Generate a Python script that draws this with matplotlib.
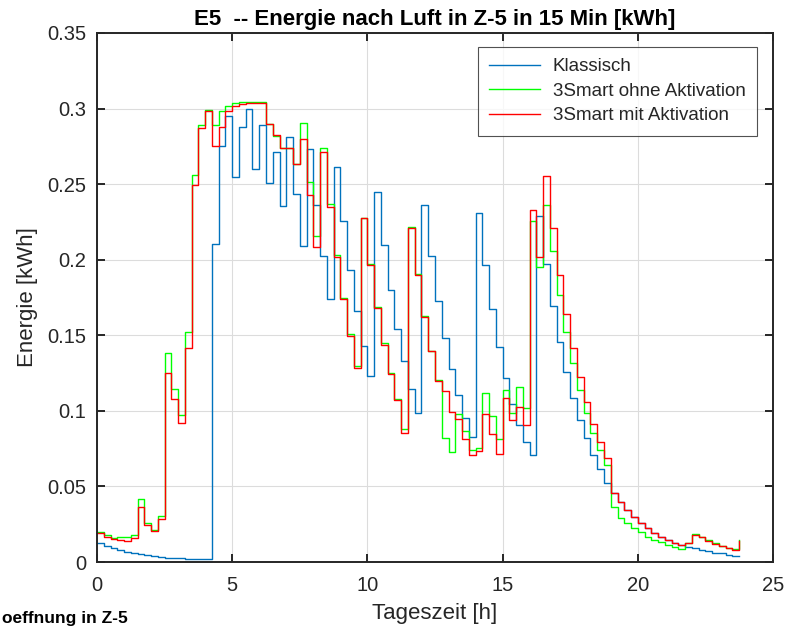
import numpy as np
import matplotlib
matplotlib.use("Agg")
import matplotlib.pyplot as plt

plt.rcParams['font.family'] = ['Liberation Sans', 'DejaVu Sans']

# 15-minute time steps (hours)
hours = np.arange(96) * 0.25

klassisch = [
    0.0123, 0.0107, 0.0093, 0.0080, 0.0069, 0.0060, 0.0052, 0.0045, 0.0039, 0.0034,
    0.0030, 0.0027, 0.0024, 0.0022, 0.0021, 0.0020, 0.0019, 0.2102, 0.2753, 0.2952,
    0.2546, 0.2881, 0.2996, 0.2599, 0.2892, 0.2506, 0.2713, 0.2356, 0.2815, 0.2438,
    0.2094, 0.2734, 0.2359, 0.2024, 0.1739, 0.2615, 0.2253, 0.1929, 0.1658, 0.1428,
    0.1230, 0.2447, 0.2099, 0.1797, 0.1541, 0.1329, 0.1144, 0.0988, 0.2362, 0.2022,
    0.1727, 0.1484, 0.1279, 0.1105, 0.0953, 0.0825, 0.2309, 0.1967, 0.1671, 0.1422,
    0.1217, 0.1047, 0.0906, 0.0791, 0.0707, 0.2290, 0.1971, 0.1691, 0.1453, 0.1259,
    0.1087, 0.0941, 0.0818, 0.0705, 0.0614, 0.0526, 0.0458, 0.0394, 0.0343, 0.0297,
    0.0260, 0.0224, 0.0193, 0.0167, 0.0145, 0.0127, 0.0112, 0.0101, 0.0092, 0.0083,
    0.0072, 0.0063, 0.0057, 0.0050, 0.0043, 0.0039]

smart_ohne = [
    0.0200, 0.0177, 0.0157, 0.0165, 0.0164, 0.0178, 0.0419, 0.0261, 0.0209, 0.0305,
    0.1385, 0.1143, 0.0973, 0.1522, 0.2563, 0.2888, 0.2990, 0.2890, 0.2987, 0.3018,
    0.3035, 0.3042, 0.3042, 0.3042, 0.3042, 0.2896, 0.2820, 0.2738, 0.2738, 0.2634,
    0.2905, 0.2513, 0.2160, 0.2736, 0.2368, 0.2033, 0.1748, 0.1508, 0.1300, 0.2279,
    0.1971, 0.1684, 0.1446, 0.1248, 0.1078, 0.0877, 0.2218, 0.1906, 0.1625, 0.1396,
    0.1202, 0.0822, 0.0728, 0.0981, 0.0867, 0.0743, 0.0752, 0.1120, 0.0966, 0.0816,
    0.1140, 0.0986, 0.1160, 0.1016, 0.2253, 0.1955, 0.2359, 0.2055, 0.1768, 0.1525,
    0.1320, 0.1139, 0.0985, 0.0853, 0.0738, 0.0640, 0.0367, 0.0289, 0.0256, 0.0223,
    0.0197, 0.0168, 0.0146, 0.0130, 0.0112, 0.0099, 0.0088, 0.0123, 0.0188, 0.0166,
    0.0146, 0.0124, 0.0107, 0.0096, 0.0085, 0.0147]

smart_mit = [
    0.0190, 0.0168, 0.0151, 0.0145, 0.0140, 0.0162, 0.0364, 0.0245, 0.0204, 0.0282,
    0.1253, 0.1077, 0.0918, 0.1414, 0.2495, 0.2870, 0.2985, 0.2753, 0.2880, 0.2987,
    0.3018, 0.3029, 0.3035, 0.3035, 0.3035, 0.2899, 0.2824, 0.2742, 0.2738, 0.2634,
    0.2800, 0.2425, 0.2085, 0.2714, 0.2350, 0.2017, 0.1737, 0.1495, 0.1287, 0.2273,
    0.1964, 0.1678, 0.1439, 0.1243, 0.1071, 0.0856, 0.2211, 0.1902, 0.1621, 0.1394,
    0.1197, 0.1131, 0.0990, 0.0944, 0.0816, 0.0706, 0.0732, 0.0981, 0.0849, 0.0717,
    0.1085, 0.0942, 0.1027, 0.0904, 0.2328, 0.2017, 0.2551, 0.2213, 0.1900, 0.1640,
    0.1415, 0.1223, 0.1058, 0.0915, 0.0791, 0.0686, 0.0457, 0.0394, 0.0343, 0.0297,
    0.0260, 0.0224, 0.0193, 0.0167, 0.0145, 0.0127, 0.0112, 0.0123, 0.0182, 0.0163,
    0.0141, 0.0121, 0.0105, 0.0094, 0.0083, 0.0138]

series_names = ['Klassisch', '3Smart ohne Aktivation', '3Smart mit Aktivation']
series_colors = ['#0072BD', '#00FF00', '#FF0000']

x_ticks = [0, 5, 10, 15, 20, 25]
y_ticks = [0, 0.05, 0.1, 0.15, 0.2, 0.25, 0.3, 0.35]
y_tick_labels = ['0', '0.05', '0.1', '0.15', '0.2', '0.25', '0.3', '0.35']

fig = plt.figure(figsize=(7.92, 6.28), dpi=100)
ax = fig.add_axes([0.1225, 0.105, 0.8535, 0.8425])

for vals, name, col in zip([klassisch, smart_ohne, smart_mit], series_names, series_colors):
    ax.step(hours, vals, where='post', color=col, lw=1.0, label=name)

ax.set_xlim(0, 25)
ax.set_ylim(0, 0.35)
ax.set_xticks(x_ticks)
ax.set_yticks(y_ticks)
ax.set_yticklabels(y_tick_labels)
ax.grid(True, color='#dcdcdc', lw=0.8)
ax.set_axisbelow(True)

for sp in ax.spines.values():
    sp.set_color('#262626')
    sp.set_linewidth(1.4)
ax.tick_params(direction='in', length=6, width=1.4, colors='#262626',
               labelsize=14.5, top=True, right=True, pad=8)
ax.tick_params(axis='x', pad=10)

ax.set_xlabel('Tageszeit [h]', fontsize=16, color='#262626', labelpad=6)
ax.set_ylabel('Energie [kWh]', fontsize=16, color='#262626', labelpad=6)
ax.set_title('E5  -- Energie nach Luft in Z-5 in 15 Min [kWh]', fontsize=16,
             fontweight='bold', color='black', pad=6)

leg = ax.legend(loc='upper right', bbox_to_anchor=(0.976, 0.974), fontsize=13.5,
                frameon=True, fancybox=False, edgecolor='#262626',
                handlelength=2.7, handletextpad=0.7, borderpad=0.6,
                labelspacing=0.4, borderaxespad=0.0)
leg.get_frame().set_linewidth(0.8)
for t in leg.get_texts():
    t.set_color('#262626')

fig.text(0.002, 0.008, 'oeffnung in Z-5', fontsize=12.5, fontweight='bold',
         color='black', ha='left', va='baseline')

fig.savefig('out.png', dpi=100)
